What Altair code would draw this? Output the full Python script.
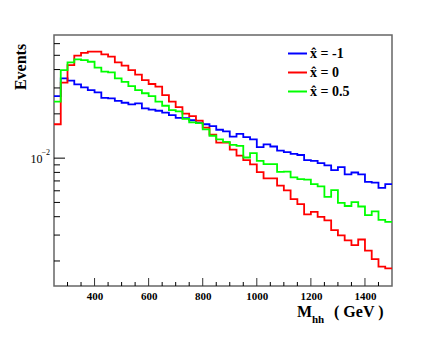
import altair as alt
import pandas as pd

FONT = "Liberation Serif"

# bin lower edges (GeV), 25 GeV bins, last entry is the upper edge of the last bin
edges = [250, 275, 300, 325, 350, 375, 400, 425, 450, 475,
         500, 525, 550, 575, 600, 625, 650, 675, 700, 725,
         750, 775, 800, 825, 850, 875, 900, 925, 950, 975,
         1000, 1025, 1050, 1075, 1100, 1125, 1150, 1175, 1200, 1225,
         1250, 1275, 1300, 1325, 1350, 1375, 1400, 1425, 1450, 1475, 1500]

blue = [0.0264, 0.0348, 0.0336, 0.0317, 0.0303, 0.0290, 0.0280, 0.0257, 0.0255, 0.0245,
        0.0238, 0.0232, 0.0236, 0.0218, 0.0214, 0.0210, 0.0204, 0.0196, 0.0188, 0.0187,
        0.0181, 0.0174, 0.0170, 0.0165, 0.0156, 0.0152, 0.0140, 0.0146, 0.0139, 0.0134,
        0.0119, 0.0124, 0.0120, 0.01125, 0.0110, 0.0107, 0.0105, 0.00969, 0.00959, 0.00925,
        0.00892, 0.00829, 0.00869, 0.00776, 0.00799, 0.00776, 0.00690, 0.00681, 0.00628, 0.00665]

red = [0.0170, 0.0326, 0.0429, 0.0497, 0.0520, 0.0529, 0.0529, 0.0508, 0.0489, 0.0448,
       0.0425, 0.0397, 0.0369, 0.0339, 0.0319, 0.0306, 0.0268, 0.0242, 0.0222, 0.0201,
       0.0193, 0.0180, 0.0161, 0.01445, 0.01275, 0.01275, 0.01143, 0.0104, 0.00969, 0.00906,
       0.00803, 0.00728, 0.00728, 0.00650, 0.00603, 0.00526, 0.00487, 0.00415, 0.00431, 0.00399,
       0.00377, 0.00324, 0.00299, 0.00276, 0.00256, 0.00280, 0.00235, 0.00206, 0.00183, 0.00178]

green = [0.0242, 0.0397, 0.0448, 0.0469, 0.0464, 0.0452, 0.0412, 0.0387, 0.0383, 0.0348,
         0.0330, 0.0309, 0.0290, 0.0276, 0.0264, 0.0242, 0.0227, 0.0212, 0.0208, 0.0185,
         0.0175, 0.0173, 0.0157, 0.0142, 0.0134, 0.0129, 0.0123, 0.0121, 0.0101, 0.0108,
         0.00959, 0.00910, 0.00910, 0.00807, 0.00810, 0.00740, 0.00720, 0.00714, 0.00665, 0.00642,
         0.00545, 0.00606, 0.00497, 0.00473, 0.00502, 0.00469, 0.00410, 0.00435, 0.00381, 0.00369]

labels = ["x\u0302 = -1", "x\u0302 = 0", "x\u0302 = 0.5"]
colors = ["#0000ff", "#ff0000", "#00ff00"]

x_major = [400, 600, 800, 1000, 1200, 1400]
x_minor = [300, 350, 450, 500, 550, 650, 700, 750, 850, 900, 950,
           1050, 1100, 1150, 1250, 1300, 1350, 1450]
y_major = [0.01]
y_minor = [0.002, 0.003, 0.004, 0.005, 0.006, 0.007, 0.008, 0.009,
           0.02, 0.03, 0.04, 0.05, 0.06]

rows = []
for lab, vals, k in zip(labels, [blue, red, green], range(3)):
    for i, v in enumerate(vals):
        rows.append({"m": edges[i], "v": v, "s": lab, "k": k})
    rows.append({"m": edges[-1], "v": vals[-1], "s": lab, "k": k})
df = pd.DataFrame(rows)

xs = alt.Scale(domain=[250, 1500], nice=False, zero=False)
ys = alt.Scale(type="log", domain=[1.352e-3, 6.87e-2], nice=False)

lines = alt.Chart(df).mark_line(interpolate="step-after", strokeWidth=1.8, clip=True).encode(
    x=alt.X("m:Q", scale=xs, axis=alt.Axis(values=x_major, format="d", ticks=False, domain=False,
                                            grid=False, title=None, labelFont=FONT,
                                            labelFontWeight="bold", labelFontSize=11,
                                            labelPadding=4, labelColor="black")),
    y=alt.Y("v:Q", scale=ys, axis=alt.Axis(values=y_major, labelExpr="'10'", ticks=False,
                                            domain=False, grid=False, title=None, labelFont=FONT,
                                            labelFontSize=12, labelPadding=12, labelColor="black")),
    color=alt.Color("s:N", scale=alt.Scale(domain=labels, range=colors),
                    legend=alt.Legend(title=None, orient="none", legendX=233, legendY=8,
                                      symbolType="stroke", symbolSize=361, symbolStrokeWidth=2,
                                      labelFont=FONT, labelFontSize=14, labelFontWeight="bold",
                                      labelOffset=2, rowPadding=1, padding=0, labelColor="black")),
    detail="k:N",
)

xmin_t = alt.Chart(pd.DataFrame({"m": x_minor})).mark_rule(color="black", strokeWidth=1).encode(
    x=alt.X("m:Q", scale=xs), y=alt.value(251), y2=alt.value(247))
xmaj_t = alt.Chart(pd.DataFrame({"m": x_major})).mark_rule(color="#333", strokeWidth=1).encode(
    x=alt.X("m:Q", scale=xs), y=alt.value(251), y2=alt.value(243))
ymin_t = alt.Chart(pd.DataFrame({"v": y_minor})).mark_rule(color="black", strokeWidth=1).encode(
    y=alt.Y("v:Q", scale=ys), x=alt.value(0), x2=alt.value(6))
ymaj_t = alt.Chart(pd.DataFrame({"v": y_major})).mark_rule(color="black", strokeWidth=1).encode(
    y=alt.Y("v:Q", scale=ys), x=alt.value(0), x2=alt.value(11))

exp_lbl = alt.Chart(pd.DataFrame({"v": y_major, "t": ["\u22122"]})).mark_text(
    font=FONT, fontSize=8, align="right", baseline="middle", dy=-5, color="black").encode(
    y=alt.Y("v:Q", scale=ys), x=alt.value(-4), text="t:N")

events = alt.Chart(pd.DataFrame({"t": ["Events"]})).mark_text(
    font=FONT, fontSize=16, fontWeight="bold", angle=270, align="center", baseline="middle",
    color="black").encode(text="t:N", x=alt.value(-33), y=alt.value(32))
mt = alt.Chart(pd.DataFrame({"t": ["M"]})).mark_text(
    font=FONT, fontSize=16, fontWeight="bold", align="left", baseline="alphabetic",
    color="black").encode(text="t:N", x=alt.value(243), y=alt.value(282))
hh = alt.Chart(pd.DataFrame({"t": ["hh"]})).mark_text(
    font=FONT, fontSize=11, fontWeight="bold", align="left", baseline="alphabetic",
    color="black").encode(text="t:N", x=alt.value(258), y=alt.value(288))
gev = alt.Chart(pd.DataFrame({"t": ["( GeV )"]})).mark_text(
    font=FONT, fontSize=16, fontWeight="bold", align="left", baseline="alphabetic",
    color="black").encode(text="t:N", x=alt.value(280), y=alt.value(282))

chart = alt.layer(lines, xmin_t, xmaj_t, ymin_t, ymaj_t, exp_lbl, events, mt, hh, gev).properties(
    width=338, height=251, autosize="none",
    padding={"left": 46, "top": 27, "right": 36, "bottom": 60},
    background="white",
).configure_view(stroke="#666", strokeWidth=1.5)

chart.save("out.html", embed_options={"renderer": "svg", "actions": False})
